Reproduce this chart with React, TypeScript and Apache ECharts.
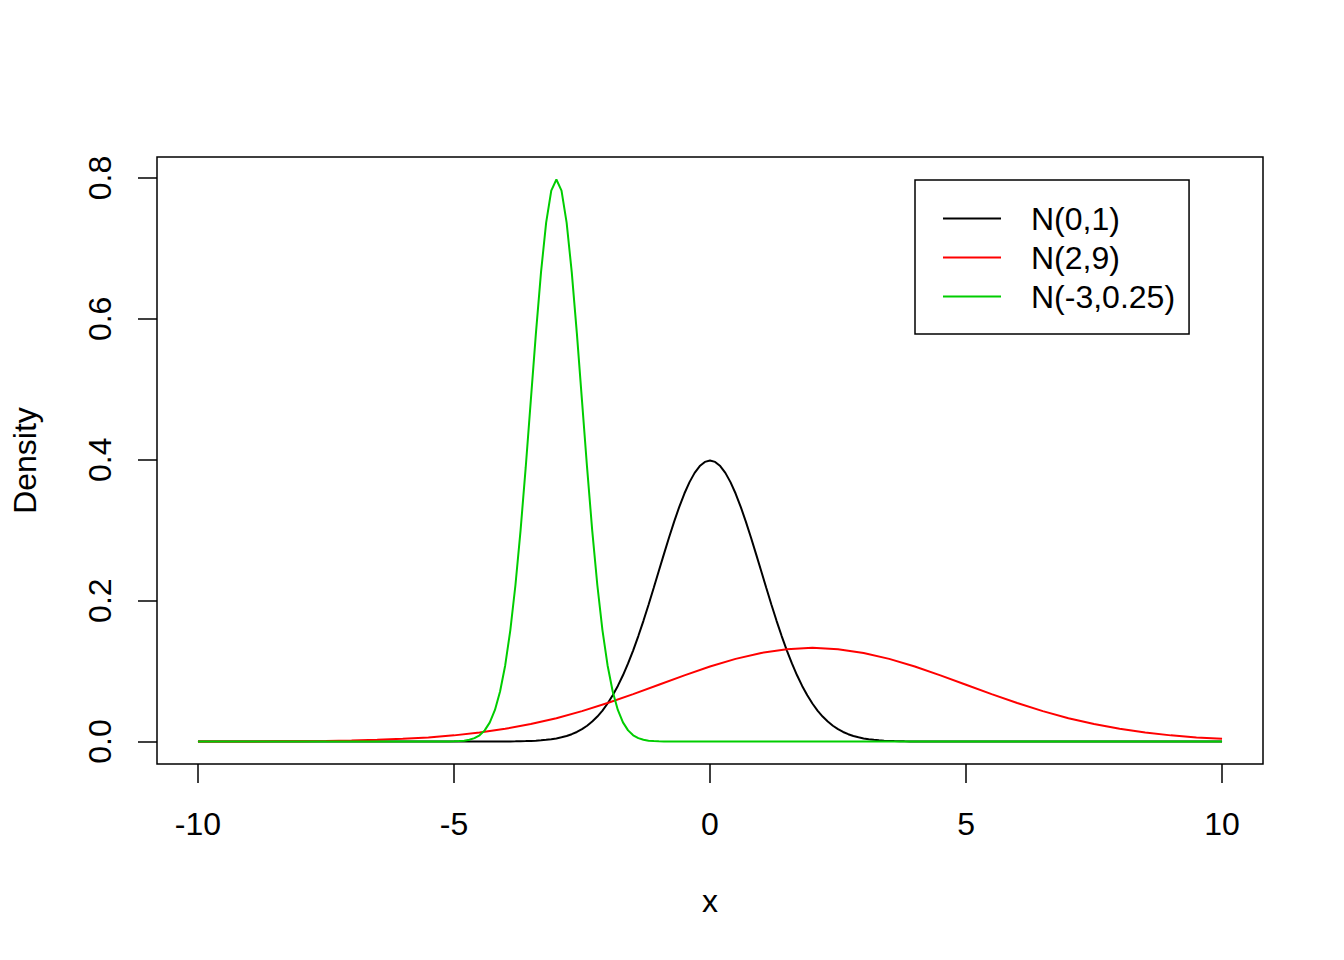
import React, { useEffect, useRef } from "react";
import * as echarts from "echarts";

// Tick labels
const xTicks = [-10, -5, 0, 5, 10];
const yTicks = [0, 0.2, 0.4, 0.6, 0.8];

// N(0,1) density
const xN01 = [-10,
  -4.4, -4.3, -4.2, -4.1, -4.0, -3.9, -3.8, -3.7, -3.6, -3.5, -3.4, -3.3, -3.2, -3.1, -3.0,
  -2.9, -2.8, -2.7, -2.6, -2.5, -2.4, -2.3, -2.2, -2.1, -2.0, -1.9, -1.8, -1.7, -1.6, -1.5,
  -1.4, -1.3, -1.2, -1.1, -1.0, -0.9, -0.8, -0.7, -0.6, -0.5, -0.4, -0.3, -0.2, -0.1, 0,
  0.1, 0.2, 0.3, 0.4, 0.5, 0.6, 0.7, 0.8, 0.9, 1.0, 1.1, 1.2, 1.3, 1.4, 1.5,
  1.6, 1.7, 1.8, 1.9, 2.0, 2.1, 2.2, 2.3, 2.4, 2.5, 2.6, 2.7, 2.8, 2.9, 3.0,
  3.1, 3.2, 3.3, 3.4, 3.5, 3.6, 3.7, 3.8, 3.9, 4.0, 4.1, 4.2, 4.3, 4.4,
  10];
const yN01 = [0,
  0.00002, 0.00004, 0.00006, 0.00009, 0.00013, 0.0002, 0.00029, 0.00042, 0.00061, 0.00087, 0.00123, 0.00172, 0.00238, 0.00327, 0.00443,
  0.00595, 0.00792, 0.01042, 0.01358, 0.01753, 0.02239, 0.02833, 0.03547, 0.04398, 0.05399, 0.06562, 0.07895, 0.09405, 0.11092, 0.12952,
  0.14973, 0.17137, 0.19419, 0.21785, 0.24197, 0.26609, 0.28969, 0.31225, 0.33322, 0.35207, 0.36827, 0.38139, 0.39104, 0.39695, 0.39894,
  0.39695, 0.39104, 0.38139, 0.36827, 0.35207, 0.33322, 0.31225, 0.28969, 0.26609, 0.24197, 0.21785, 0.19419, 0.17137, 0.14973, 0.12952,
  0.11092, 0.09405, 0.07895, 0.06562, 0.05399, 0.04398, 0.03547, 0.02833, 0.02239, 0.01753, 0.01358, 0.01042, 0.00792, 0.00595, 0.00443,
  0.00327, 0.00238, 0.00172, 0.00123, 0.00087, 0.00061, 0.00042, 0.00029, 0.0002, 0.00013, 0.00009, 0.00006, 0.00004, 0.00002,
  0];

// N(2,9) density
const xN29 = [-10, -9.5, -9, -8.5, -8, -7.5, -7, -6.5, -6, -5.5, -5, -4.5, -4, -3.5, -3, -2.5, -2, -1.5, -1, -0.5, 0, 0.5, 1, 1.5, 2, 2.5, 3, 3.5, 4, 4.5, 5, 5.5, 6, 6.5, 7, 7.5, 8, 8.5, 9, 9.5, 10];
const yN29 = [0.000045, 0.000086, 0.00016, 0.000291, 0.000514, 0.000884, 0.001477, 0.002402, 0.003799, 0.005843, 0.008741, 0.012718, 0.017997, 0.024766, 0.033159, 0.043173, 0.05467, 0.067333, 0.080657, 0.093971, 0.106483, 0.117355, 0.125794, 0.131147, 0.132981, 0.131147, 0.125794, 0.117355, 0.106483, 0.093971, 0.080657, 0.067333, 0.05467, 0.043173, 0.033159, 0.024766, 0.017997, 0.012718, 0.008741, 0.005843, 0.003799];

// N(-3,0.25) density
const xN3 = [-10,
  -5.2, -5.1, -5.0, -4.9, -4.8, -4.7, -4.6, -4.5, -4.4, -4.3, -4.2, -4.1, -4.0, -3.9, -3.8,
  -3.7, -3.6, -3.5, -3.4, -3.3, -3.2, -3.1, -3.0, -2.9, -2.8, -2.7, -2.6, -2.5, -2.4, -2.3,
  -2.2, -2.1, -2.0, -1.9, -1.8, -1.7, -1.6, -1.5, -1.4, -1.3, -1.2, -1.1, -1.0, -0.9, -0.8,
  10];
const yN3 = [0,
  0.00005, 0.00012, 0.00027, 0.00058, 0.00122, 0.00246, 0.00477, 0.00886, 0.01583, 0.02717, 0.04479, 0.07095, 0.10798, 0.1579, 0.22184,
  0.29945, 0.38837, 0.48394, 0.57938, 0.66645, 0.73654, 0.78208, 0.79788, 0.78208, 0.73654, 0.66645, 0.57938, 0.48394, 0.38837, 0.29945,
  0.22184, 0.1579, 0.10798, 0.07095, 0.04479, 0.02717, 0.01583, 0.00886, 0.00477, 0.00246, 0.00122, 0.00058, 0.00027, 0.00012, 0.00005,
  0];

const seriesNames = ["N(0,1)", "N(2,9)", "N(-3,0.25)"];
const seriesColors = ["#000000", "#FF0000", "#00CD00"];

const FONT = "'Liberation Sans', Arial, Helvetica, sans-serif";

function pairs(xs: number[], ys: number[]) {
  return xs.map((x, i) => [x, ys[i]]);
}

export default function App() {
  const ref = useRef<HTMLDivElement>(null);
  useEffect(() => {
    if (!ref.current) return;
    const chart = echarts.init(ref.current, null, { renderer: "svg" });
    const datasets = [pairs(xN01, yN01), pairs(xN29, yN29), pairs(xN3, yN3)];
    chart.setOption({
      animation: false,
      backgroundColor: "#ffffff",
      textStyle: { fontFamily: FONT },
      grid: {
        left: 157,
        right: 81,
        top: 157,
        bottom: 196,
        show: true,
        borderColor: "#000",
        borderWidth: 1.5,
        backgroundColor: "transparent",
      },
      legend: {
        orient: "vertical",
        left: 915,
        top: 180,
        padding: [19, 14, 18, 28],
        itemGap: 0,
        itemWidth: 58,
        itemHeight: 2,
        icon: "rect",
        borderColor: "#000",
        borderWidth: 1.5,
        data: seriesNames,
        textStyle: {
          fontSize: 32,
          fontFamily: FONT,
          color: "#000",
          lineHeight: 39,
          padding: [0, 0, 0, 25],
        },
      },
      xAxis: {
        type: "value",
        min: -10.8,
        max: 10.8,
        name: "x",
        nameLocation: "middle",
        nameGap: 121,
        nameTextStyle: { fontSize: 32, color: "#000", fontFamily: FONT },
        splitLine: { show: false },
        axisLine: { show: false, onZero: false },
        axisTick: {
          show: true,
          customValues: xTicks,
          length: 19,
          lineStyle: { color: "#000", width: 1.5 },
        },
        axisLabel: {
          customValues: xTicks,
          fontSize: 32,
          color: "#000",
          margin: 44,
          fontFamily: FONT,
        },
      },
      yAxis: {
        type: "value",
        min: -0.0319,
        max: 0.8298,
        name: "Density",
        nameLocation: "middle",
        nameGap: 116,
        nameTextStyle: { fontSize: 32, color: "#000", fontFamily: FONT },
        splitLine: { show: false },
        axisLine: { show: false, onZero: false },
        axisTick: {
          show: true,
          customValues: yTicks,
          length: 19,
          lineStyle: { color: "#000", width: 1.5 },
        },
        axisLabel: {
          customValues: yTicks,
          fontSize: 32,
          color: "#000",
          rotate: 90,
          margin: 41,
          fontFamily: FONT,
          formatter: (v: number) => v.toFixed(1),
        },
      },
      series: seriesNames.map((name, i) => ({
        name,
        type: "line",
        data: datasets[i],
        showSymbol: false,
        symbol: "none",
        smooth: false,
        color: seriesColors[i],
        lineStyle: { color: seriesColors[i], width: 2 },
        z: 2 + i,
      })),
    });
    return () => chart.dispose();
  }, []);
  return (
    <div
      ref={ref}
      style={{ position: "fixed", left: 0, top: 0, width: 1344, height: 960, background: "#fff" }}
    />
  );
}
